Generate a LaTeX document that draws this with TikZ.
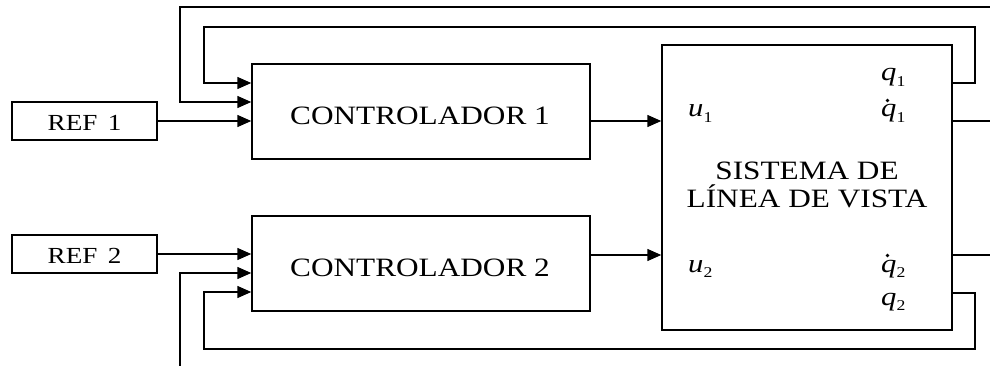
\documentclass[tikz,border=0pt]{standalone}
\usepackage{fontspec}
\setmainfont{Liberation Serif}[FakeStretch=1.18]
\usetikzlibrary{arrows.meta}
\newcommand{\sublbl}[2]{\textit{#1}\raisebox{-0.45ex}{\fontsize{15}{15}\selectfont #2}}
\begin{document}
\begin{tikzpicture}[x=1pt,y=-1pt,
  blk/.style={draw, line width=1.5pt, inner sep=0pt},
  wire/.style={line width=1.5pt},
  arr/.style={wire, -{Triangle[length=14pt,width=12pt]}},
  txt/.style={inner sep=0pt, font=\fontsize{26.5}{28}\selectfont},
  reftxt/.style={inner sep=0pt, font=\fontsize{23}{24}\selectfont},
  sig/.style={inner sep=0pt, anchor=base west, font=\fontsize{26}{28}\selectfont}]
\useasboundingbox (0,0) rectangle (990,366);
% blocks
\node[blk, minimum width=145pt, minimum height=38pt] (ref1) at (84.5,121) {};
\node[blk, minimum width=145pt, minimum height=38pt] (ref2) at (84.5,254) {};
\node[blk, minimum width=338pt, minimum height=95pt] (ctrl1) at (421,111.5) {};
\node[blk, minimum width=338pt, minimum height=95pt] (ctrl2) at (421,263.5) {};
\node[blk, minimum width=290pt, minimum height=285pt] (sys) at (807,187.5) {};
% texts
\node[reftxt] (tref1) at (84.5,123) {REF\hspace{0.45em}1};
\node[reftxt] (tref2) at (84.5,256) {REF\hspace{0.45em}2};
\node[txt] (tc1) at (420,115.5) {CONTROLADOR 1};
\node[txt] (tc2) at (420,268) {CONTROLADOR 2};
\node[txt, align=center] (tsys) at (807,185) {SISTEMA DE\\LÍNEA DE VISTA};
\node[sig] (u1) at (688,117) {\sublbl{u}{1}};
\node[sig] (u2) at (688,272) {\sublbl{u}{2}};
\node[sig] (q1) at (881,81) {\sublbl{q}{1}};
\node[sig] (qd1) at (881,117) {\sublbl{q}{1}};
\node[sig] (qd2) at (881,272) {\sublbl{q}{2}};
\node[sig] (q2) at (881,305) {\sublbl{q}{2}};
% time-derivative dots over q
\fill ([shift={(6.5,-16.5)}]qd1.base west) circle (1.9);
\fill ([shift={(6.5,-16.5)}]qd2.base west) circle (1.9);
% helper coordinates
\coordinate (topR) at (990,7);
\coordinate (topL) at (180,7);
\coordinate (inR1) at (975,27);
\coordinate (inL1) at (204,27);
\coordinate (out1) at (990,121);
\coordinate (out2) at (990,255);
\coordinate (botL) at (180,366);
\coordinate (inR2) at (975,349);
\coordinate (inL2) at (204,349);
% inputs to controller 1
\draw[arr] (ref1.east) -- (ref1.east -| ctrl1.west);
\draw[arr] (topR) -- (topL) -- (topL |- 0,102) -- (ctrl1.west |- 0,102);
\draw[arr] (sys.east |- 0,83) -- (inR1 |- 0,83) -- (inR1) -- (inL1) -- (inL1 |- 0,83) -- (ctrl1.west |- 0,83);
% inputs to controller 2
\draw[arr] (ref2.east) -- (ref2.east -| ctrl2.west);
\draw[arr] (botL) -- (botL |- 0,273) -- (ctrl2.west |- 0,273);
\draw[arr] (sys.east |- 0,293) -- (inR2 |- 0,293) -- (inR2) -- (inL2) -- (inL2 |- 0,292) -- (ctrl2.west |- 0,292);
% controller outputs
\draw[arr] (ctrl1.east |- 0,121) -- (sys.west |- 0,121);
\draw[arr] (ctrl2.east |- 0,255) -- (sys.west |- 0,255);
% system outputs
\draw[wire] (sys.east |- out1) -- (out1);
\draw[wire] (sys.east |- out2) -- (out2);
\end{tikzpicture}
\end{document}
